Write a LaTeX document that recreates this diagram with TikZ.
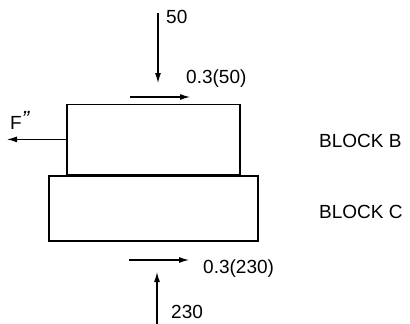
\documentclass[tikz,border=0pt]{standalone}
\usepackage{fontspec}
\setmainfont{Liberation Sans}
\usetikzlibrary{arrows.meta,positioning}

\begin{document}
\begin{tikzpicture}[x=1pt, y=-1pt, >={Latex[length=10pt,width=6pt]}]
    \tikzstyle{block} = [rectangle, draw, line width=1.6pt, inner sep=0pt]
    \tikzstyle{force} = [line width=1.1pt, ->]
    \tikzstyle{label} = [anchor=west, inner sep=0pt, font=\fontsize{19}{21}\selectfont]
    \useasboundingbox (0,0) rectangle (410,324);

    % Blocks
    \node [block, minimum width=209pt, minimum height=65pt] (blockC) at (153.5,208.5) {};
    \node [block, minimum width=173pt, minimum height=70pt, anchor=south] (blockB) at (blockC.north) {};
    \node [label] (nameB) at (319,141) {BLOCK B};
    \node [label] (nameC) at (319,212) {BLOCK C};

    % Forces on block B
    \coordinate (top50) at (158,13);
    \coordinate (tip50) at (158,83);
    \draw [force] (top50) -- (tip50);
    \node [label] (lab50) at (166,17) {50};
    \coordinate (fricB) at (130,97);
    \coordinate (fricBtip) at (190,97);
    \draw [force] (fricB) -- (fricBtip);
    \node [label] (labfricB) at (186,79) {0.3(50)};
    \coordinate (Ftip) at (7,141);
    \draw [force] (blockB.west) -- (blockB.west -| Ftip);
    \node [label] (labF) at (10,120) {F\raisebox{3pt}{\textit{\fontsize{22}{22}\selectfont"}}};

    % Forces on block C
    \coordinate (fricC) at (129,260);
    \coordinate (fricCtip) at (189,260);
    \draw [force] (fricC) -- (fricCtip);
    \node [label] (labfricC) at (203,269) {0.3(230)};
    \coordinate (bot230) at (157,324);
    \coordinate (tip230) at (157,272);
    \draw [force] (bot230) -- (tip230);
    \node [label] (lab230) at (171,312) {230};
\end{tikzpicture}
\end{document}
